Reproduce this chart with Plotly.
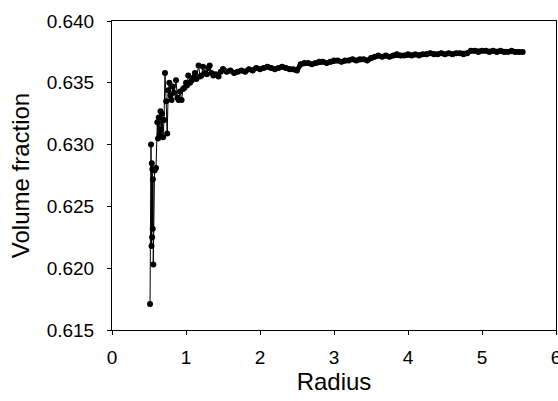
import plotly.graph_objects as go

radius_early = [0.514, 0.527, 0.534, 0.538, 0.542, 0.546, 0.550, 0.553, 0.558, 0.575, 0.595,
                0.612, 0.622, 0.632, 0.645, 0.655, 0.665, 0.676, 0.690, 0.703, 0.716, 0.732,
                0.746, 0.760, 0.775, 0.790, 0.805, 0.820, 0.840, 0.865, 0.885, 0.900, 0.920,
                0.940, 0.960, 0.980, 1.000, 1.015, 1.030, 1.055, 1.080, 1.100, 1.120, 1.140,
                1.170, 1.190, 1.210, 1.230, 1.255, 1.280, 1.300, 1.320, 1.345, 1.370, 1.400,
                1.440, 1.470, 1.50]
vf_early = [0.6171, 0.6300, 0.6218, 0.6285, 0.6225, 0.6280, 0.6232, 0.6272, 0.6203, 0.6279, 0.6281,
            0.6318, 0.6305, 0.6322, 0.6308, 0.6327, 0.6312, 0.6325, 0.6306, 0.6320, 0.6358, 0.6335,
            0.6309, 0.6344, 0.6350, 0.6340, 0.6336, 0.6347, 0.6342, 0.6352, 0.6338, 0.6336, 0.6343,
            0.6336, 0.6345, 0.6346, 0.6350, 0.6348, 0.6356, 0.6350, 0.6352, 0.6354, 0.6358, 0.6353,
            0.6364, 0.6355, 0.6356, 0.6363, 0.6358, 0.6357, 0.6362, 0.6364, 0.6358, 0.6356, 0.6357,
            0.6355, 0.6359, 0.6361]

radius_late = [1.50, 1.55, 1.60, 1.65, 1.70, 1.75, 1.80, 1.85, 1.90, 1.95, 2.00,
               2.05, 2.10, 2.15, 2.20, 2.25, 2.30, 2.35, 2.40, 2.45, 2.50,
               2.55, 2.60, 2.65, 2.70, 2.75, 2.80, 2.85, 2.90, 2.95, 3.00,
               3.05, 3.10, 3.15, 3.20, 3.25, 3.30, 3.35, 3.40, 3.45, 3.50,
               3.55, 3.60, 3.65, 3.70, 3.75, 3.80, 3.85, 3.90, 3.95, 4.00,
               4.05, 4.10, 4.15, 4.20, 4.25, 4.30, 4.35, 4.40, 4.45, 4.50,
               4.55, 4.60, 4.65, 4.70, 4.75, 4.80, 4.85, 4.90, 4.95, 5.00,
               5.05, 5.10, 5.15, 5.20, 5.25, 5.30, 5.35, 5.40, 5.45, 5.50, 5.55]
vf_late = [0.6361, 0.6359, 0.6360, 0.6358, 0.6359, 0.6360, 0.6359, 0.6361, 0.6360, 0.6362, 0.6361,
           0.6362, 0.6363, 0.6362, 0.6361, 0.6362, 0.6363, 0.6362, 0.6361, 0.6361, 0.6360,
           0.6365, 0.6366, 0.6366, 0.6365, 0.6366, 0.6367, 0.6367, 0.6366, 0.6367, 0.6368,
           0.6368, 0.6367, 0.6368, 0.6368, 0.6369, 0.6368, 0.6369, 0.6369, 0.6368, 0.6370,
           0.6371, 0.6372, 0.6371, 0.6372, 0.6371, 0.6372, 0.6373, 0.6372, 0.6372, 0.6373,
           0.6372, 0.6373, 0.6372, 0.6373, 0.6373, 0.6374, 0.6373, 0.6373, 0.6374, 0.6373,
           0.6374, 0.6373, 0.6374, 0.6374, 0.6373, 0.6374, 0.6376, 0.6376, 0.6375, 0.6376,
           0.6376, 0.6375, 0.6376, 0.6375, 0.6376, 0.6375, 0.6375, 0.6376, 0.6375, 0.6375, 0.6375]

x_ticks = [0, 1, 2, 3, 4, 5, 6]
y_ticks = [0.615, 0.620, 0.625, 0.630, 0.635, 0.640]
y_tick_labels = ["0.615", "0.620", "0.625", "0.630", "0.635", "0.640"]

fig = go.Figure()
fig.add_trace(go.Scatter(
    x=radius_late, y=vf_late, mode="lines+markers",
    line=dict(color="black", width=5),
    marker=dict(color="black", size=6),
    showlegend=False,
))
fig.add_trace(go.Scatter(
    x=radius_early, y=vf_early, mode="lines+markers",
    line=dict(color="black", width=1),
    marker=dict(color="black", size=6),
    showlegend=False,
))

font = "Liberation Sans, Arial, sans-serif"
fig.update_layout(
    width=558, height=401,
    margin=dict(l=112, r=2, t=21, b=71),
    paper_bgcolor="white", plot_bgcolor="white",
    font=dict(family=font, color="black", size=19),
)
fig.update_xaxes(
    range=[0, 6], tickvals=x_ticks, ticks="outside", ticklen=4, tickcolor="black",
    showline=True, linecolor="black", linewidth=1, mirror=True, showgrid=False, zeroline=False,
    tickfont=dict(size=19), ticklabelstandoff=6, ticklabeloverflow="allow", automargin=False,
    title=dict(text="Radius", font=dict(size=24), standoff=6),
)
fig.update_yaxes(
    range=[0.615, 0.640], tickvals=y_ticks, ticktext=y_tick_labels, ticks="outside", ticklen=4,
    tickcolor="black", showline=True, linecolor="black", linewidth=1, mirror=True,
    showgrid=False, zeroline=False, tickfont=dict(size=19), ticklabelstandoff=9, automargin=False,
    title=dict(text="Volume fraction", font=dict(size=24), standoff=10),
)
fig.write_html("out.html")
